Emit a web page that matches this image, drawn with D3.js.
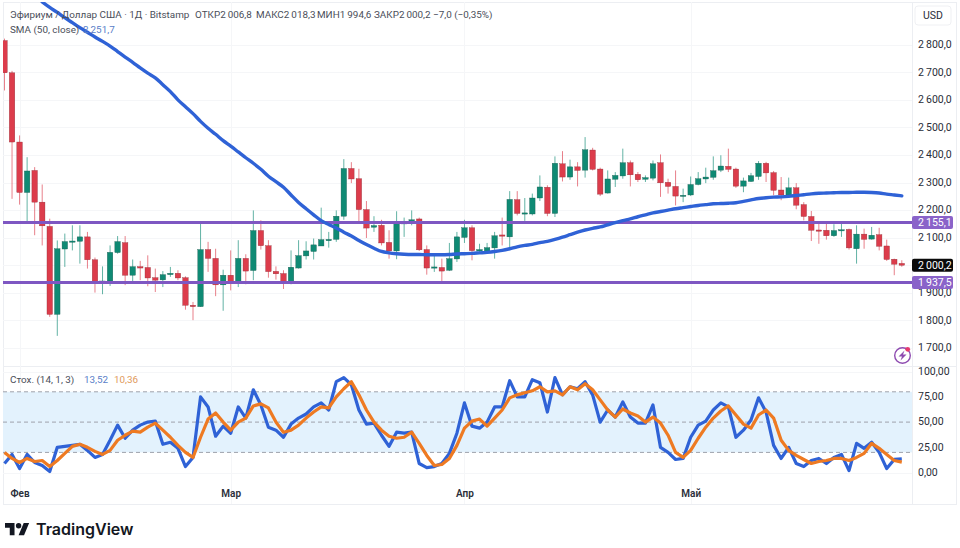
<!DOCTYPE html>
<html lang="ru">
<head>
<meta charset="utf-8">
<title>Эфириум / Доллар США</title>
<script src="https://cdnjs.cloudflare.com/ajax/libs/d3/7.8.5/d3.min.js"></script>
<style>
  html, body { margin: 0; padding: 0; background: #fff; }
  svg { display: block; }
  text { font-family: Roboto, "Noto Sans", sans-serif; fill: #2a2e39; }
</style>
</head>
<body>
<svg id="chart" width="960" height="548"></svg>
<script>
// Daily ETH/USD candles, one entry per day from the end of January.
const opens = [2815,2698,2447,2264,2344,2229,2141,1822,2059,2086,2087,2103,2020,1936,1943,2046,2082,1964,1995,1992,
  1955,1947,1966,1971,1955,1855,1850,2057,2025,1929,1964,1936,2025,1981,2126,2071,1978,1970,1934,1990,
  2034,2050,2070,2089,2094,2178,2351,2314,2202,2138,2145,2083,2052,2150,2153,2168,2057,1990,1992,1982,
  2023,2101,2136,2052,2051,2063,2110,2103,2238,2187,2186,2244,2283,2188,2368,2320,2357,2345,2418,2349,
  2262,2312,2324,2372,2330,2312,2316,2372,2301,2286,2250,2255,2293,2313,2319,2345,2359,2349,2287,2304,
  2322,2370,2336,2273,2255,2281,2220,2177,2128,2127,2107,2126,2130,2060,2113,2095,2111,2070,2022,2006.8];
const highs = [2822,2705,2471,2392,2356,2293,2169,2090,2115,2145,2145,2121,2028,1996,2072,2106,2106,2021,2016,2036,
  1988,1979,1994,1982,1960,1867,2151,2085,2060,1984,2054,2091,2040,2199,2163,2091,1996,1982,2054,2091,
  2087,2097,2209,2121,2199,2385,2374,2350,2233,2178,2165,2127,2196,2173,2199,2173,2072,2036,2024,2081,
  2121,2165,2145,2078,2081,2121,2173,2269,2269,2244,2260,2326,2290,2395,2414,2383,2374,2465,2426,2354,
  2344,2338,2423,2380,2338,2326,2380,2402,2314,2344,2278,2322,2338,2354,2395,2399,2423,2354,2318,2335,
  2378,2375,2342,2320,2318,2298,2229,2197,2151,2151,2149,2151,2133,2145,2133,2139,2136,2093,2024,2018.3];
const lows = [2634,2241,2220,2157,2109,2072,1813,1744,1994,2054,2006,1988,1901,1895,1925,2042,1928,1940,1946,1924,
  1903,1921,1958,1946,1839,1801,1849,1976,1888,1835,1909,1921,1931,1946,2057,1955,1948,1914,1931,1988,
  2021,2021,2070,2064,2085,2165,2298,2157,2099,2121,2072,2024,2022,2103,2145,2052,1966,1976,1934,1979,
  2012,2081,2018,2048,2045,2024,2072,2060,2181,2161,2181,2233,2178,2175,2304,2310,2286,2318,2344,2251,
  2260,2284,2314,2286,2302,2302,2308,2248,2260,2217,2229,2251,2290,2298,2310,2338,2338,2281,2265,2302,
  2310,2302,2254,2236,2250,2203,2163,2088,2078,2093,2103,2103,2057,2006,2060,2093,2054,2016,1964,1994.6];
const closes = [2698,2447,2264,2342,2229,2143,1822,2060,2086,2088,2103,2020,1936,1943,2047,2086,1964,1995,1990,1954,
  1946,1966,1971,1954,1855,1850,2057,2025,1929,1964,1936,2025,1979,2126,2071,1977,1969,1934,1993,2035,
  2052,2074,2093,2094,2178,2351,2313,2202,2135,2144,2081,2052,2151,2155,2165,2056,1990,1994,1979,2024,
  2103,2136,2053,2057,2064,2107,2107,2239,2188,2190,2244,2284,2188,2370,2320,2357,2344,2419,2348,2258,
  2313,2326,2372,2328,2310,2318,2368,2299,2286,2251,2254,2293,2314,2320,2343,2360,2348,2287,2306,2325,
  2370,2335,2272,2255,2281,2218,2177,2127,2126,2107,2126,2129,2063,2113,2094,2109,2069,2021,2004,2000.2];

// 50-day moving average; it enters the visible range at the sixth candle.
const smaStart = 5;
const smaValues = [2955,2935,2917,2898,2880,2862,2845,2828,2812,2795,2775,2755,2736,2716,2697,2680,2655,2630,2600,2575,
  2550,2522,2497,2475,2452,2432,2411,2390,2370,2348,2323,2303,2283,2255,2228,2205,2183,2162,2148,2135,
  2120,2106,2090,2075,2062,2050,2045,2042,2040,2039,2039,2038,2038,2038,2039,2041,2042,2043,2045,2047,
  2050,2054,2060,2067,2072,2076,2082,2087,2094,2102,2111,2120,2128,2134,2139,2147,2155,2162,2168,2176,
  2183,2190,2195,2200,2205,2209,2213,2217,2220,2223,2224,2225,2227,2232,2237,2242,2245,2247,2248,2250,
  2253,2256,2259,2261,2262,2263,2264,2264,2265,2265,2264,2262,2258,2255,2251.7];

// Stochastic oscillator (14, 1, 3).
const stochK = [9,18,4,18,10,7,1,25,26,27,28,22,15,18,32,47,34,42,47,50,
  51,28,30,24,6,15,75,65,36,46,39,65,54,82,67,45,42,35,48,54,
  58,65,69,62,90,94,87,62,48,49,37,26,40,39,40,9,5,6,9,19,
  39,69,46,44,50,65,65,91,75,75,92,89,60,94,77,85,83,90,77,50,
  62,55,70,55,49,49,67,25,20,13,14,35,47,51,62,69,65,35,42,52,
  74,60,27,14,25,9,6,12,14,9,15,18,2,29,24,30,20,4,13,13.52];
const stochD = [20,14,10,14,11,12,6,12,19,26,28,25,21,18,22,32,37,41,40,45,
  49,42,35,27,20,15,35,53,59,50,42,50,54,66,68,64,50,40,42,47,
  54,60,65,64,75,83,90,77,62,50,42,36,34,35,40,29,17,7,8,14,
  27,44,51,53,46,54,62,74,77,79,81,85,80,81,77,85,82,88,82,72,
  62,55,63,59,56,50,55,49,37,20,15,22,34,45,54,61,66,57,48,44,
  57,62,54,32,22,17,13,9,11,12,14,14,12,15,19,29,24,18,12,10.36];

const priceTicks = [1700,1800,1900,2000,2100,2200,2300,2400,2500,2600,2700,2800];
const stochTicks = [0,25,50,75,100];
const stochBands = [80,50,20];
const monthIndex = [2,30,61,91];
const monthLabels = ["Фев","Мар","Апр","Май"];
const levels = [2155.1, 1937.5];

const ruLocale = d3.formatLocale({ decimal: ",", thousands: "\u2009", grouping: [3], currency: ["", ""] });
const fmtPrice = ruLocale.format(",.1f");
const fmtStoch = ruLocale.format(".2f");

// Frame geometry
const frameLeft = 3, plotRight = 912, frameRight = 956, frameTop = 2, paneSplit = 366, frameBottom = 504;

const x = d3.scaleLinear().domain([0, opens.length - 1]).range([4.5, 901.8]);
const y = d3.scaleLinear().domain([1700, 2800]).range([348, 44.7]);
const yS = d3.scaleLinear().domain([0, 100]).range([472.6, 371.6]);

const green = "#0f8a74", red = "#dc3c4b", blue = "#2f62d6", orange = "#ee7a22", purple = "#7e57c2";

const svg = d3.select("#chart");
svg.append("defs").append("clipPath").attr("id", "plot")
  .append("rect").attr("x", frameLeft).attr("y", frameTop).attr("width", plotRight - frameLeft).attr("height", frameBottom - frameTop);

// Outer frame and pane separators
const frame = svg.append("g").attr("fill", "none").attr("stroke", "#eceef2");
frame.append("rect").attr("x", frameLeft + .5).attr("y", frameTop + .5).attr("width", frameRight - frameLeft).attr("height", frameBottom - frameTop);
frame.append("line").attr("x1", frameLeft).attr("x2", frameRight).attr("y1", paneSplit + .5).attr("y2", paneSplit + .5);
frame.append("line").attr("x1", plotRight + .5).attr("x2", plotRight + .5).attr("y1", frameTop).attr("y2", frameBottom);

// Grid lines
const grid = svg.append("g").attr("stroke", "#f5f6f8").attr("stroke-width", 1);
grid.selectAll(".gp").data(priceTicks).join("line")
  .attr("x1", frameLeft).attr("x2", plotRight)
  .attr("y1", d => Math.round(y(d)) + .5).attr("y2", d => Math.round(y(d)) + .5);
grid.selectAll(".gs").data(stochTicks).join("line")
  .attr("x1", frameLeft).attr("x2", plotRight)
  .attr("y1", d => Math.round(yS(d)) + .5).attr("y2", d => Math.round(yS(d)) + .5);
grid.selectAll(".gm").data(monthIndex).join("line")
  .attr("y1", frameTop).attr("y2", frameBottom)
  .attr("x1", d => Math.round(x(d)) + .5).attr("x2", d => Math.round(x(d)) + .5);

const plot = svg.append("g").attr("clip-path", "url(#plot)");

// Candles
const candles = plot.append("g").selectAll("g").data(d3.range(opens.length)).join("g");
const up = i => closes[i] >= opens[i];
candles.append("line")
  .attr("x1", i => x(i)).attr("x2", i => x(i))
  .attr("y1", i => y(highs[i])).attr("y2", i => y(lows[i]))
  .attr("stroke", i => up(i) ? green : red).attr("stroke-opacity", .65);
candles.append("rect")
  .attr("x", i => x(i) - 2.75).attr("width", 5.5)
  .attr("y", i => y(Math.max(opens[i], closes[i])))
  .attr("height", i => Math.max(1.2, Math.abs(y(opens[i]) - y(closes[i]))))
  .attr("fill", i => up(i) ? green : red)
  .attr("stroke", i => up(i) ? "#17594d" : "#8e2a34").attr("stroke-width", .35);

// Support and resistance levels
plot.append("g").selectAll("line").data(levels).join("line")
  .attr("x1", frameLeft).attr("x2", plotRight)
  .attr("y1", d => y(d)).attr("y2", d => y(d))
  .attr("stroke", purple).attr("stroke-width", 3);

// Moving average
const smaLine = d3.line().x((d, i) => x(i + smaStart)).y(d => y(d)).curve(d3.curveMonotoneX);
plot.append("path").attr("d", smaLine(smaValues))
  .attr("fill", "none").attr("stroke", blue).attr("stroke-width", 3.4).attr("stroke-linejoin", "round").attr("stroke-linecap", "round");

// Stochastic pane
plot.append("rect").attr("x", frameLeft).attr("width", plotRight - frameLeft)
  .attr("y", yS(80)).attr("height", yS(20) - yS(80)).attr("fill", "#e3f2fd");
plot.append("g").selectAll("line").data(stochBands).join("line")
  .attr("x1", frameLeft).attr("x2", plotRight)
  .attr("y1", d => yS(d)).attr("y2", d => yS(d))
  .attr("stroke", "#9ea2ac").attr("stroke-dasharray", "4 3");
const stochLine = d3.line().x((d, i) => x(i)).y(d => yS(d));
plot.append("path").attr("d", stochLine(stochK)).attr("fill", "none").attr("stroke", blue)
  .attr("stroke-width", 3.2).attr("stroke-linejoin", "round");
plot.append("path").attr("d", stochLine(stochD)).attr("fill", "none").attr("stroke", orange)
  .attr("stroke-width", 3.2).attr("stroke-linejoin", "round");

// Axes
const styleAxis = g => {
  g.select(".domain").remove();
  g.selectAll(".tick line").remove();
  g.selectAll("text").attr("font-size", 10.5).attr("fill", "#2a2e39").style("font-family", "Roboto, sans-serif");
};
svg.append("g").attr("transform", `translate(${plotRight + 6},-0.6)`)
  .call(d3.axisRight(y).tickValues(priceTicks).tickFormat(fmtPrice).tickSize(0).tickPadding(0))
  .call(styleAxis);
svg.append("g").attr("transform", `translate(${plotRight + 6},-0.6)`)
  .call(d3.axisRight(yS).tickValues(stochTicks).tickFormat(fmtStoch).tickSize(0).tickPadding(0))
  .call(styleAxis);
svg.append("g").attr("transform", "translate(0,489.5)")
  .call(d3.axisBottom(x).tickValues(monthIndex).tickFormat((d, i) => monthLabels[i]).tickSize(0).tickPadding(0))
  .call(styleAxis)
  .selectAll("text").attr("font-weight", 600).attr("font-size", 10);

// Value flags on the price scale
const flag = (value, fill) => {
  const g = svg.append("g").attr("transform", `translate(${plotRight},${y(value)})`);
  g.append("rect").attr("x", 0).attr("y", -6.5).attr("width", 41).attr("height", 13).attr("rx", 2).attr("fill", fill);
  g.append("text").attr("x", 6).attr("dy", "0.35em").attr("font-size", 10.5).style("fill", "#fff").text(fmtPrice(value));
};
levels.forEach(v => flag(v, "#8a63c9"));
flag(closes[closes.length - 1], "#0a0a0a");

// USD scale button
svg.append("rect").attr("x", 915).attr("y", 6).attr("width", 36).attr("height", 19).attr("rx", 3)
  .attr("fill", "#fff").attr("stroke", "#eff0f3");
svg.append("text").attr("x", 933).attr("y", 19).attr("text-anchor", "middle").attr("font-size", 10.5).text("USD");

// Symbol and indicator captions
const caption = (px, py, str, color) => svg.append("text").attr("x", px).attr("y", py)
  .attr("font-size", 9.9).style("fill", color || "#4a4e59").text(str);
caption(10, 18, "Эфириум / Доллар США · 1Д · Bitstamp");
caption(195, 18, "ОТКР2\u2009006,8");
caption(256, 18, "МАКС2\u2009018,3");
caption(317, 18, "МИН1\u2009994,6");
caption(374, 18, "ЗАКР2\u2009000,2");
caption(433, 18, "−7,0 (−0,35%)");
caption(10, 33, "SMA (50, close)");
caption(83, 33, "2\u2009251,7", "#5a80c8");
caption(10, 383, "Стох. (14, 1, 3)");
caption(84, 383, "13,52", "#5a80c8");
caption(114, 383, "10,36", "#e09a5c");

// Lightning badge
const badge = svg.append("g").attr("transform", "translate(902.5,355.5)");
badge.append("circle").attr("r", 7.8).attr("fill", "none").attr("stroke", "#8e4bb0").attr("stroke-width", 1.4);
badge.append("path").attr("d", "M2-5L-4 1H-.5L-2 5L4-1H.5Z").attr("fill", "#8e4bb0");
badge.append("circle").attr("cx", 5.2).attr("cy", -6.2).attr("r", 2.4).attr("fill", "#e63a6e");

// Brand mark
const brand = svg.append("g").attr("transform", "translate(5,520.3) scale(.68)").attr("fill", "#131722");
brand.append("path").attr("d", "M14 22H7V11H0V4h14v18zM28 22h-8l7.5-18h8L28 22z");
brand.append("circle").attr("cx", 20).attr("cy", 8).attr("r", 4);
svg.append("text").attr("x", 36).attr("y", 535).attr("font-size", 16).attr("font-weight", 600)
  .style("font-family", "Inter, sans-serif").style("fill", "#131722").text("TradingView");
</script>
</body>
</html>
